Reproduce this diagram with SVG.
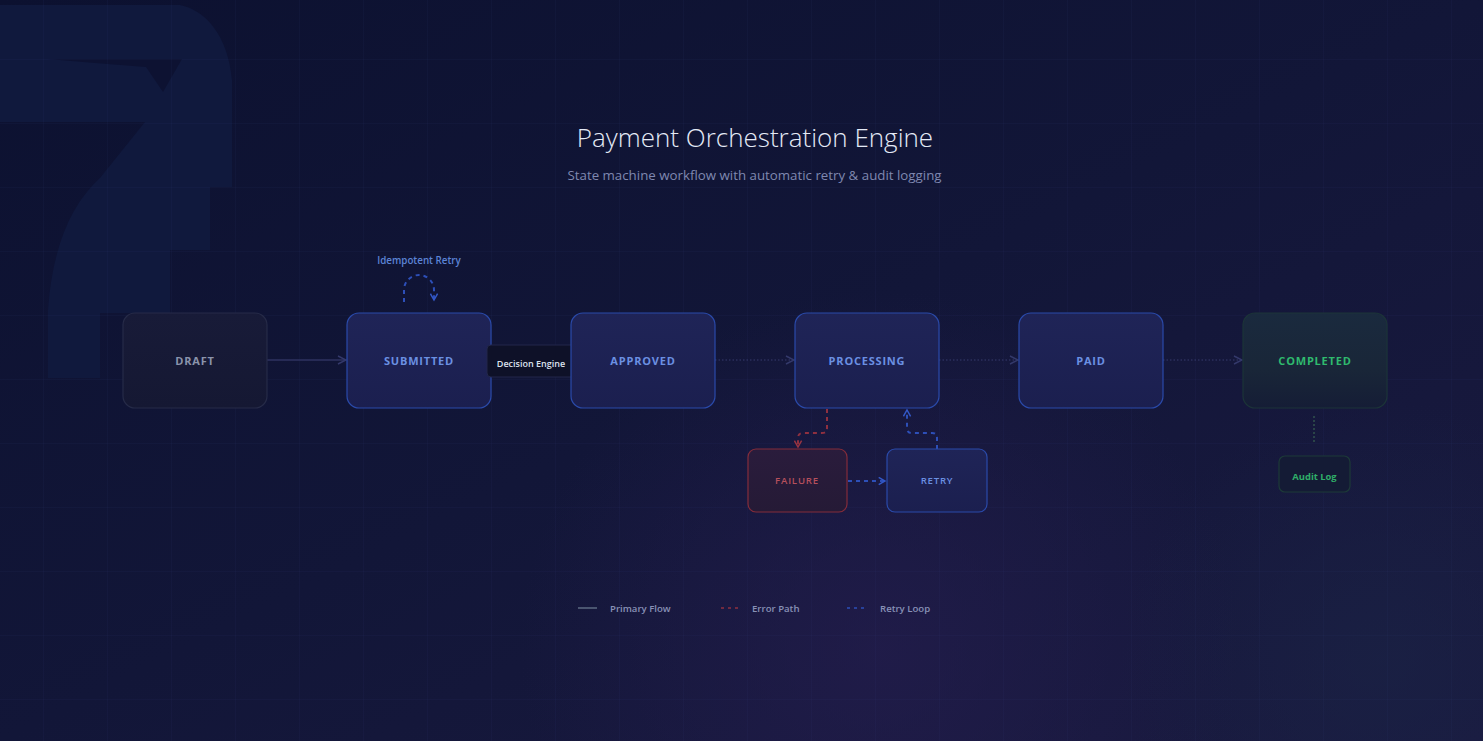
<svg xmlns="http://www.w3.org/2000/svg" width="1483" height="741" viewBox="0 0 1483 741">
  <defs>
    <linearGradient id="bg" x1="0" y1="0" x2="1" y2="1">
      <stop offset="0" stop-color="#0c1130"/>
      <stop offset="0.5" stop-color="#121638"/>
      <stop offset="1" stop-color="#1a1a40"/>
    </linearGradient>
    <radialGradient id="glow" cx="880" cy="650" r="360" gradientUnits="userSpaceOnUse">
      <stop offset="0" stop-color="#241d4e" stop-opacity="0.7"/>
      <stop offset="1" stop-color="#241d4e" stop-opacity="0"/>
    </radialGradient>
    <radialGradient id="glow2" cx="1380" cy="660" r="260" gradientUnits="userSpaceOnUse">
      <stop offset="0" stop-color="#1a2446" stop-opacity="0.6"/>
      <stop offset="1" stop-color="#1a2446" stop-opacity="0"/>
    </radialGradient>
    <pattern id="grid" x="43" y="59" width="64" height="64" patternUnits="userSpaceOnUse">
      <path d="M0 0 H64 M0 0 V64" fill="none" stroke="#3a4a90" stroke-opacity="0.14" stroke-width="1"/>
    </pattern>
    <linearGradient id="gBlue" x1="0" y1="0" x2="0" y2="1">
      <stop offset="0" stop-color="#1f2457"/>
      <stop offset="1" stop-color="#1b1f4f"/>
    </linearGradient>
    <linearGradient id="gDraft" x1="0" y1="0" x2="0" y2="1">
      <stop offset="0" stop-color="#181b38"/>
      <stop offset="1" stop-color="#151833"/>
    </linearGradient>
    <linearGradient id="gGreen" x1="0" y1="0" x2="0" y2="1">
      <stop offset="0" stop-color="#1a2a3e"/>
      <stop offset="0.6" stop-color="#192638"/>
      <stop offset="1" stop-color="#151d36"/>
    </linearGradient>
    <linearGradient id="gRed" x1="0" y1="0" x2="0" y2="1">
      <stop offset="0" stop-color="#2a1c3c"/>
      <stop offset="1" stop-color="#251a36"/>
    </linearGradient>
    <marker id="chev" viewBox="0 0 10 10" refX="9" refY="5" markerWidth="10" markerHeight="10" markerUnits="userSpaceOnUse" orient="auto">
      <path d="M1 1 L9 5 L1 9" fill="none" stroke="#34396b" stroke-width="1.5"/>
    </marker>
    <marker id="chevBlue" viewBox="0 0 10 10" refX="8" refY="5" markerWidth="9" markerHeight="9" markerUnits="userSpaceOnUse" orient="auto">
      <path d="M1 1 L8 5 L1 9" fill="none" stroke="#3358c8" stroke-width="1.6"/>
    </marker>
    <marker id="chevRed" viewBox="0 0 10 10" refX="8" refY="5" markerWidth="9" markerHeight="9" markerUnits="userSpaceOnUse" orient="auto">
      <path d="M1 1 L8 5 L1 9" fill="none" stroke="#9a3442" stroke-width="1.6"/>
    </marker>
    <style>
      .lbl { font-family: "Open Sans", "Noto Sans", "Liberation Sans", sans-serif; font-weight: 700; font-size: 11px; letter-spacing: 0.8px; text-anchor: middle; dominant-baseline: central; }
      .lbl.sm { font-size: 9.6px; font-weight: 600; letter-spacing: 0.8px; }
      .small { font-family: "Open Sans", "Noto Sans", "Liberation Sans", sans-serif; font-weight: 600; font-size: 9px; text-anchor: middle; dominant-baseline: central; }
      .small.loop { font-size: 9.8px; }
      .small.audit { font-size: 9.4px; font-weight: 700; }
      .legend { font-family: "Open Sans", "Noto Sans", "Liberation Sans", sans-serif; font-weight: 600; font-size: 9.6px; fill: #8891b6; dominant-baseline: central; }
      .blue { fill: url(#gBlue); stroke: #2a4aaa; stroke-width: 1.2; }
      .bluetxt { fill: #6b90e2; }
      .primary { fill: none; stroke: #2e3260; stroke-width: 1.5; }
      .dotted { fill: none; stroke: #363b6c; stroke-width: 1.2; stroke-dasharray: 1.5 2; }
      .err { fill: none; stroke: #8f3040; stroke-width: 2; stroke-dasharray: 4 4; }
      .retry { fill: none; stroke: #2d4fb8; stroke-width: 2; stroke-dasharray: 4 4; }
    </style>
  </defs>

  <!-- background -->
  <rect width="1483" height="741" fill="url(#bg)"/>
  <rect width="1483" height="741" fill="url(#glow)"/>
  <rect width="1483" height="741" fill="url(#glow2)"/>
  <!-- decorative backdrop shape -->
  <path d="M0 5 H180 C205 10 228 35 232 80 V187 H210 V250 H170 V313 H100 V378 H48 V310 C52 250 70 205 100 178 L145 122 H0 Z" fill="#10193d"/>
  <path d="M48 59 H182 L163 92 L146 67 L95 63 Z" fill="#0d1232"/>
  <rect width="1483" height="741" fill="url(#grid)"/>

  <!-- title -->
  <text x="755" y="137" text-anchor="middle" dominant-baseline="central" font-family="'Open Sans', 'Noto Sans', 'Liberation Sans', sans-serif" font-weight="300" font-size="26" fill="#e4eaf6">Payment Orchestration Engine</text>
  <text x="754.5" y="175" text-anchor="middle" dominant-baseline="central" font-family="'Open Sans', 'Noto Sans', 'Liberation Sans', sans-serif" font-weight="400" font-size="13.3" fill="#7f88b0">State machine workflow with automatic retry &amp; audit logging</text>

  <!-- connectors -->
  <g id="connectors">
    <line class="primary" x1="267" y1="360" x2="346" y2="360" marker-end="url(#chev)"/>
    <line class="dotted" x1="491" y1="360" x2="570" y2="360"/>
    <line class="dotted" x1="715" y1="360" x2="794" y2="360" marker-end="url(#chev)"/>
    <line class="dotted" x1="939" y1="360" x2="1018" y2="360" marker-end="url(#chev)"/>
    <line class="dotted" x1="1163" y1="360" x2="1242" y2="360" marker-end="url(#chev)"/>
    <!-- self loop -->
    <path class="retry" d="M404 302 V290 A15 15 0 0 1 434 290 V300" marker-end="url(#chevBlue)"/>
    <text x="419" y="260" class="small loop" fill="#5c84d6">Idempotent Retry</text>
    <!-- processing -> failure -->
    <path class="err" d="M827 409 V428 Q827 433 822 433 H803 Q798 433 798 438 V447" marker-end="url(#chevRed)"/>
    <!-- failure -> retry -->
    <line class="retry" x1="848" y1="481" x2="885" y2="481" marker-end="url(#chevBlue)"/>
    <!-- retry -> processing -->
    <path class="retry" d="M937 449 V438 Q937 433 932 433 H912 Q907 433 907 428 V410" marker-end="url(#chevBlue)"/>
    <!-- completed -> audit -->
    <line x1="1314" y1="416" x2="1314" y2="444" stroke="#2a4448" stroke-width="2" stroke-dasharray="2 2"/>
  </g>

  <!-- nodes -->
  <g id="node-draft">
    <rect x="123" y="313" width="144" height="95" rx="12" fill="url(#gDraft)" stroke="#262b48" stroke-width="1.2"/>
    <text x="195" y="360" class="lbl" fill="#8a93ab">DRAFT</text>
  </g>
  <g id="node-submitted">
    <rect x="347" y="313" width="144" height="95" rx="12" class="blue"/>
    <text x="419" y="360" class="lbl bluetxt">SUBMITTED</text>
  </g>
  <g id="node-decision">
    <rect x="487" y="345" width="88" height="32" rx="4" fill="#0e1128" stroke="#22274a" stroke-width="1"/>
    <text x="531" y="363.5" class="small" fill="#dde2ee">Decision Engine</text>
  </g>
  <g id="node-approved">
    <rect x="571" y="313" width="144" height="95" rx="12" class="blue"/>
    <text x="643" y="360" class="lbl bluetxt">APPROVED</text>
  </g>
  <g id="node-processing">
    <rect x="795" y="313" width="144" height="95" rx="12" class="blue"/>
    <text x="867" y="360" class="lbl bluetxt">PROCESSING</text>
  </g>
  <g id="node-paid">
    <rect x="1019" y="313" width="144" height="95" rx="12" class="blue"/>
    <text x="1091" y="360" class="lbl bluetxt">PAID</text>
  </g>
  <g id="node-completed">
    <rect x="1243" y="313" width="144" height="95" rx="12" fill="url(#gGreen)" stroke="#1c3438" stroke-width="1.2"/>
    <text x="1315" y="360" class="lbl" fill="#2fba6e">COMPLETED</text>
  </g>
  <g id="node-failure">
    <rect x="748" y="449" width="99" height="63" rx="8" fill="url(#gRed)" stroke="#842c3a" stroke-width="1.2"/>
    <text x="797" y="480.5" class="lbl sm" fill="#b6505c">FAILURE</text>
  </g>
  <g id="node-retry">
    <rect x="887" y="449" width="100" height="63" rx="8" class="blue" stroke="#2d4eb4"/>
    <text x="937" y="480.5" class="lbl sm bluetxt">RETRY</text>
  </g>
  <g id="node-audit">
    <rect x="1279" y="456" width="71" height="36" rx="6" fill="#141b35" stroke="#1d3a38" stroke-width="1.2"/>
    <text x="1314.5" y="476" class="small audit" fill="#2fae68">Audit Log</text>
  </g>

  <!-- legend -->
  <g id="legend">
    <line x1="578" y1="608" x2="597" y2="608" stroke="#5d6a82" stroke-width="1.5"/>
    <text x="610" y="608.5" class="legend">Primary Flow</text>
    <line x1="721" y1="608" x2="741" y2="608" stroke="#8f3040" stroke-width="1.5" stroke-dasharray="3 4"/>
    <text x="752" y="608.5" class="legend">Error Path</text>
    <line x1="847" y1="608" x2="867" y2="608" stroke="#2d4fb8" stroke-width="1.5" stroke-dasharray="3 4"/>
    <text x="880" y="608.5" class="legend">Retry Loop</text>
  </g>
</svg>
